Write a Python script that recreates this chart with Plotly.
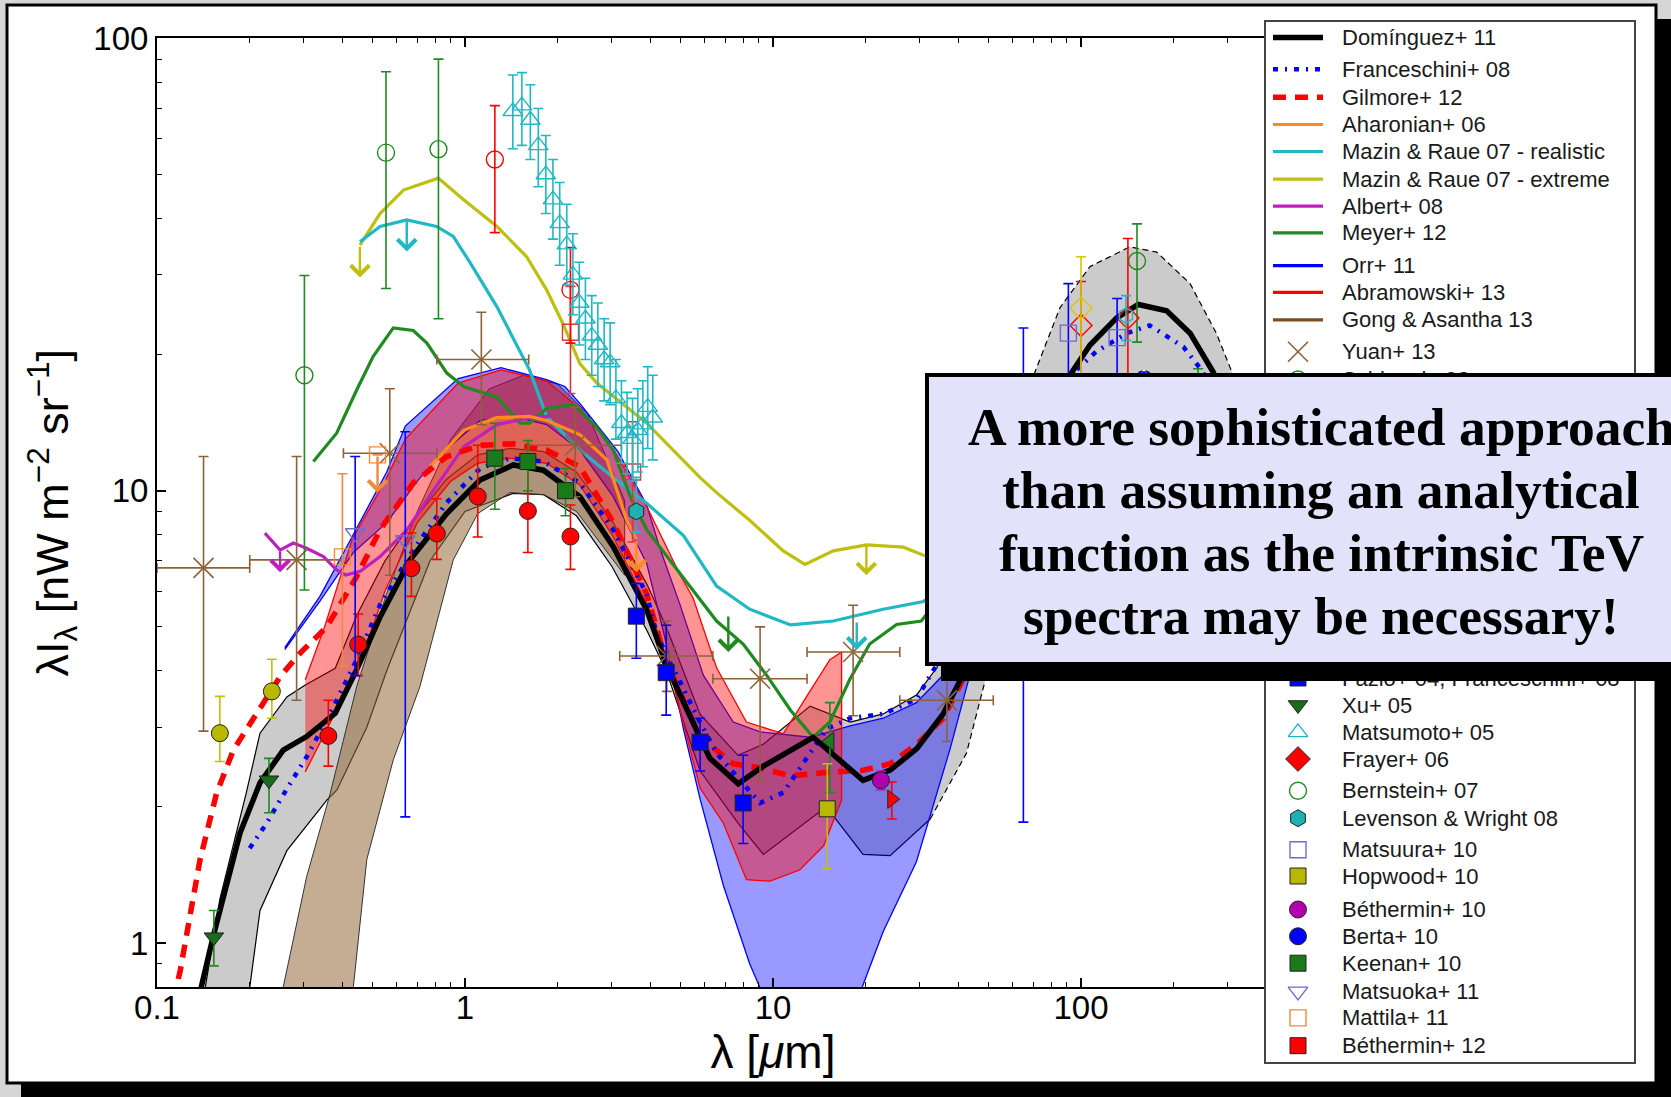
import numpy as np
import plotly.graph_objects as go

# ---------------------------------------------------------------- canvas / axes geometry (pixels)
W, H = 1671, 1097
L, T, R, B = 157, 38.4, 1389, 987          # main axes box
LG_X0, LG_X1, LG_Y0, LG_Y1 = 1266, 1634, 21.5, 1062   # key panel box
XR = [-1, 3]
YR = [np.log10(0.8) - 0.0004, 2]


def px(X):
    return X / W


def py(Y):
    return 1 - Y / H


# ---------------------------------------------------------------- model curves
dom_x = [0.133, 0.139, 0.152, 0.186, 0.216, 0.257, 0.306, 0.379, 0.445, 0.53, 0.663, 0.872, 1.118, 1.435,
         1.796, 2.36, 3.03, 3.89, 4.52, 5.79, 6.24, 7.71, 9.3, 13.5, 19.6, 24.0, 29.3, 35.7, 42.5, 60,
         92, 107, 130.6, 153.5, 189.7, 226, 268.6, 330, 400, 500, 700]
dom_y = [0.7, 0.8, 1.03, 1.75, 2.26, 2.67, 2.86, 3.22, 4.02, 5.26, 7.03, 8.9, 10.56, 11.4,
         11.1, 9.7, 7.52, 5.45, 4.1, 2.85, 2.56, 2.25, 2.46, 2.85, 2.29, 2.41, 2.69, 3.21, 4.06, 8.5,
         18.0, 21.0, 24.1, 25.8, 25.0, 22.3, 18.3, 13.0, 9.0, 5.0, 2.0]

dom_up_x = [0.139, 0.16, 0.195, 0.216, 0.264, 0.303, 0.379, 0.445, 0.55, 0.68, 0.87, 1.1, 1.4, 1.8, 2.3,
            3.0, 3.9, 4.5, 5.8, 7.7, 9.3, 13.2, 17.8, 22.8, 29.3, 34.0, 45, 55, 70, 85.5, 107, 144,
            176, 226, 275, 312, 400, 500, 700]
dom_up_y = [0.7, 1.25, 2.15, 2.91, 3.5, 3.72, 4.05, 5.3, 7.0, 8.6, 10.6, 12.0, 12.4, 12.2, 11.0,
            8.6, 6.2, 5.0, 3.2, 2.6, 2.75, 3.34, 3.08, 3.21, 3.54, 4.06, 6.0, 9.5, 17.9, 25.4, 31.3, 34.6,
            33.7, 28.7, 22.3, 18.0, 12.0, 7.0, 3.0]
dom_lo_x = [0.195, 0.216, 0.264, 0.356, 0.384, 0.48, 0.557, 0.77, 1.0, 1.43, 1.8, 2.3, 3.0, 3.9, 4.5,
            5.8, 7.7, 9.3, 13.2, 14.9, 19.6, 24.0, 32.4, 42.5, 49.4, 60, 80, 100, 130, 160, 200, 250,
            300, 400, 500, 700]
dom_lo_y = [0.7, 1.18, 1.6, 2.07, 2.18, 3.0, 4.0, 7.0, 9.0, 9.86, 9.8, 8.8, 6.8, 4.9, 4.0,
            2.4, 1.84, 1.57, 1.88, 2.0, 1.57, 1.56, 1.88, 2.63, 3.92, 6.0, 10.0, 14.0, 17.0, 18.5, 17.0, 13.0,
            9.5, 5.0, 2.5, 1.0]

gong_up_x = [0.245, 0.257, 0.306, 0.365, 0.445, 0.557, 0.70, 0.90, 1.2, 1.55, 2.0, 2.5, 3.3]
gong_up_y = [0.7, 0.8, 1.40, 2.14, 3.69, 5.93, 9.0, 13.0, 16.8, 18.0, 17.2, 14.8, 9.5]
gong_lo_x = [0.42, 0.434, 0.48, 0.585, 0.714, 0.916, 1.1, 1.4, 1.8, 2.3, 3.3]
gong_lo_y = [0.7, 0.8, 1.53, 2.54, 3.69, 7.03, 8.9, 9.9, 9.8, 9.0, 6.5]

orr_up_x = [0.26, 0.338, 0.434, 0.557, 0.64, 0.95, 1.31, 1.84, 2.11, 2.36, 3.14, 3.89, 4.31, 4.99,
            5.94, 7.43, 9.08, 13.2, 17.8, 22.8, 29.2, 37.6, 43.6, 55, 70]
orr_up_y = [4.5, 5.84, 8.0, 11.0, 13.9, 17.7, 18.7, 17.6, 17.0, 15.6, 12.2, 9.3, 7.4, 5.6,
            3.91, 3.08, 2.93, 2.85, 3.02, 3.14, 3.4, 4.06, 4.85, 7.0, 10.0]
orr_lo_x = [0.26, 0.338, 0.434, 0.557, 0.70, 0.83, 1.12, 1.43, 1.84, 2.36, 3.03, 3.89, 4.5, 5.12,
            5.8, 6.9, 8.4, 9.5, 12.5, 16, 19.5, 22.8, 29.2, 33.1, 37.6, 43.6, 55, 70]
orr_lo_y = [4.45, 5.7, 7.3, 8.5, 10.5, 12.0, 14.3, 14.6, 14.0, 12.3, 9.7, 6.9, 4.6, 2.97,
            2.08, 1.34, 0.9, 0.74, 0.6, 0.6, 0.8, 1.06, 1.51, 2.0, 2.69, 3.92, 5.8, 9.0]

abr_up_x = [0.303, 0.35, 0.43, 0.55, 0.64, 0.95, 1.31, 1.84, 2.36, 3.0, 3.9, 5.0, 5.5, 6.56,
            8.2, 10.8, 13.2, 15.3, 16.7]
abr_up_y = [3.82, 5.0, 7.8, 10.5, 13.0, 17.3, 18.5, 17.5, 15.2, 12.5, 9.2, 6.5, 5.8, 4.06,
            3.08, 2.9, 3.61, 4.23, 4.4]
abr_lo_x = [0.303, 0.383, 0.445, 0.55, 0.70, 0.90, 1.10, 1.40, 1.84, 2.36, 3.0, 3.9, 4.5, 5.8, 6.9,
            8.2, 9.78, 12.2, 14.6, 16.7]
abr_lo_y = [2.39, 3.27, 3.95, 6.0, 8.5, 10.5, 11.5, 11.8, 11.5, 10.3, 8.0, 5.6, 4.3, 2.2, 1.84,
            1.38, 1.37, 1.45, 1.64, 2.07]

fra_x = [0.2, 0.227, 0.251, 0.306, 0.356, 0.445, 0.53, 0.68, 0.87, 1.12, 1.4, 1.8, 2.36, 3.03, 3.89,
         4.2, 5.79, 6.56, 8.0, 9.08, 10.8, 13.2, 14.9, 17.8, 22.8, 29.2, 33.1, 45, 60, 75, 92, 112,
         141, 167, 215, 249, 300, 400]
fra_y = [1.62, 1.84, 2.07, 2.58, 3.11, 4.23, 5.6, 7.4, 9.4, 11.2, 11.8, 11.6, 10.4, 8.2, 5.9,
         4.8, 3.08, 2.63, 2.25, 2.04, 2.15, 2.63, 2.97, 3.14, 3.21, 3.46, 4.0, 5.5, 9.0, 13.5, 17.9, 20.3,
         22.3, 23.2, 20.8, 18.3, 13.0, 7.0]

gil_x = [0.105, 0.119, 0.138, 0.156, 0.177, 0.211, 0.251, 0.291, 0.356, 0.445, 0.53, 0.679, 0.873,
         1.12, 1.43, 1.84, 2.36, 3.03, 3.89, 4.5, 5.79, 7.43, 9.08, 11.4, 14.6, 19.6, 24.0, 29.3,
         35.7, 41.5, 60, 100, 150, 200, 300]
gil_y = [0.6, 0.87, 1.53, 2.14, 2.67, 3.22, 3.88, 4.37, 5.0, 6.46, 8.2, 10.4, 11.9,
         12.6, 12.7, 12.3, 11.3, 8.5, 5.9, 4.2, 2.85, 2.49, 2.44, 2.34, 2.38, 2.41, 2.49, 2.75,
         3.14, 3.84, 7.5, 14.0, 17.0, 15.0, 9.0]

aha_x = [0.77, 0.99, 1.265, 1.62, 1.84, 2.36, 2.89, 3.35, 3.6]
aha_y = [11.3, 13.6, 14.5, 14.6, 14.3, 13.3, 11.7, 8.6, 7.8]

mre_x = [0.456, 0.53, 0.631, 0.819, 0.99, 1.27, 1.585, 1.84, 2.08, 2.36, 2.68, 3.89, 5.79, 6.56,
         8.4, 10.8, 12.7, 15.7, 20.1, 26.5, 31.8, 40, 60]
mre_y = [34.9, 41.0, 46.2, 49.1, 44.0, 38.4, 32.9, 27.8, 23.4, 19.1, 17.3, 14.1, 10.7, 9.9,
         8.6, 7.36, 6.87, 7.36, 7.59, 7.5, 7.14, 7.5, 10.0]

mrr_x = [0.456, 0.53, 0.647, 0.809, 0.916, 1.04, 1.27, 1.43, 1.62, 1.84, 2.36, 3.03, 3.89, 5.12,
         6.56, 8.4, 11.4, 15.7, 22.8, 30.8, 40, 60]
mrr_y = [35.5, 38.4, 39.7, 38.4, 36.5, 31.9, 25.5, 21.9, 18.5, 14.6, 12.3, 10.7, 9.38, 7.96,
         6.15, 5.47, 5.05, 5.15, 5.47, 5.69, 6.5, 9.0]

alb_x = [0.224, 0.251, 0.277, 0.306, 0.347, 0.383, 0.41, 0.456, 0.53, 0.647, 0.789, 0.99, 1.27,
         1.62, 1.89]
alb_y = [8.06, 7.39, 7.66, 7.46, 7.15, 6.68, 6.51, 6.63, 7.15, 8.18, 10.0, 12.5, 14.0, 14.5, 14.6]

mey_x = [0.322, 0.383, 0.445, 0.503, 0.585, 0.679, 0.752, 0.873, 0.99, 1.27, 1.51, 1.62, 1.84, 2.25,
         2.68, 3.03, 3.44, 3.89, 5.12, 6.56, 8.0, 9.53, 11.4, 13.5, 15.3, 17.8, 20.6, 25.2, 30.3,
         31.8, 40, 60]
mey_y = [11.6, 13.4, 16.7, 19.8, 22.9, 22.6, 21.2, 18.2, 17.0, 16.1, 14.1, 14.1, 15.2, 15.5,
         13.8, 12.3, 9.7, 8.2, 6.41, 5.15, 4.58, 3.91, 3.27, 2.85, 3.08, 3.84, 4.58, 5.06, 5.15,
         5.37, 7.0, 10.0]

# ---------------------------------------------------------------- upper limits (x, from, to)
lim_mre = [(0.456, 34.9, 29.6), (20.1, 7.59, 6.5)]
lim_mrr = [(0.647, 39.7, 33.8), (18.7, 5.15, 4.45)]
lim_mey = [(7.16, 5.31, 4.4)]
lim_alb = [(0.251, 7.39, 6.6)]
lim_aha = [(3.6, 7.8, 6.6)]
lim_mat = [(0.52, 12.0, 9.9)]

# ---------------------------------------------------------------- measurements
yuan_x = [0.1416, 0.284, 0.57, 1.13, 2.28, 4.52, 9.08, 18.2, 36.7]
yuan_y = [6.75, 7.03, 12.1, 19.5, 12.6, 4.31, 3.84, 4.4, 3.44]
yuan_yhi = [11.9, 11.9, 16.8, 24.8, 15.3, 5.15, 5.0, 5.58, 4.5]
yuan_ylo = [2.94, 3.44, 6.5, 14.0, 9.7, 3.6, 2.29, 3.18, 2.79]
yuan_xlo = [0.1, 0.2, 0.403, 0.81, 1.61, 3.18, 6.38, 12.9, 25.8]
yuan_xhi = [0.2, 0.4, 0.81, 1.61, 3.22, 6.38, 12.9, 25.8, 51.9]

sch_x, sch_y, sch_hi, sch_lo = [152, 240], [32.2, 14.0], [38.9, 18.6], [21.3, 10.0]
hau_x, hau_y, hau_hi, hau_lo = [100, 142], [23.2, 24.1], [29.0, 36.1], [10.0, 14.0]
lag_x, lag_y, lag_hi, lag_lo = [100], [25.3], [32.9], [12.0]
fin_x, fin_y, fin_hi, fin_lo = [140], [24.4], [27.0], [21.5]
gor_x, gor_y, gor_hi, gor_lo = [2.2, 3.5], [22.4, 11.0], [28.3, 14.2], [16.4, 7.7]
cam_x, cam_y, cam_hi, cam_lo = [1.25, 2.2], [54.0, 27.8], [71.0, 34.5], [37.2, 21.2]
mp_x = [0.36, 0.45, 0.67, 0.81, 1.1, 1.6, 2.2]
mp_y = [2.87, 4.57, 6.74, 8.04, 9.71, 9.02, 7.92]
mp_hi = [3.44, 5.34, 8.06, 9.6, 12.6, 11.3, 9.3]
mp_lo = [2.46, 3.9, 5.84, 7.05, 7.9, 7.3, 6.7]
gar_x, gar_y, gar_hi, gar_lo = [0.16, 0.236], [2.91, 3.6], [3.51, 4.24], [2.52, 3.14]
elb_x, elb_y, elb_hi, elb_lo = [15.3], [2.79], [3.4], [2.15]
pap_x, pap_y, pap_hi, pap_lo = [24.3], [2.08], [2.27], [1.88]
dol_x, dol_y, dol_hi, dol_lo = [70, 160], [7.1, 13.4], [8.0, 15.0], [6.2, 11.8]
faz_x, faz_y, faz_hi, faz_lo = [3.6, 4.5, 5.8, 8.0], [5.28, 3.96, 2.78, 2.04], [6.24, 5.04, 3.14, 2.6], [4.26, 3.19, 2.4, 1.66]
xu_x, xu_y, xu_hi, xu_lo = [0.153, 0.231], [1.03, 2.29], [1.18, 2.56], [0.89, 1.94]
mto_x = [1.43, 1.53, 1.63, 1.73, 1.83, 1.93, 2.03, 2.14, 2.24, 2.35, 2.46, 2.58, 2.70, 2.83, 2.96,
         3.09, 3.22, 3.36, 3.50, 3.64, 3.78, 3.92, 4.07]
mto_y = [69, 71, 66, 58, 50, 44, 39, 35, 30, 26, 24, 22, 21, 19.5, 19.2, 16, 14.1, 13.4, 13.0,
         13.6, 14.0, 15.3, 14.5]
mto_hi = [83, 84, 79, 70, 61, 54, 48, 43, 37, 32, 29.5, 27, 26, 24, 23.5, 19.5, 17.5, 16.5, 16,
          16.8, 17.5, 18.8, 18]
mto_lo = [57, 58, 54, 47, 41, 36, 31.5, 28.5, 24.5, 21, 19.5, 18, 17, 15.8, 15.5, 13, 11.5, 10.9,
          10.5, 11, 11.3, 12.4, 11.7]
fra6_x, fra6_y, fra6_hi, fra6_lo = [71], [7.4], [9.0], [5.8]
ber_x, ber_y, ber_hi, ber_lo = [0.301, 0.554, 0.82], [18.0, 55.9, 56.9], [29.9, 84.4, 90.0], [6.03, 28.0, 24.0]
lev_x, lev_y, lev_hi, lev_lo = [3.6], [9.0], [10.7], [8.1]
mtu_x, mtu_y, mtu_hi, mtu_lo = [65, 91, 131, 160], [6.5, 22.3, 21.8, 14.4], [22.9, 28.7, 26.6, 18.3], [1.85, 15.0, 17.0, 10.5]
hop_x, hop_y, hop_hi, hop_lo = [15], [1.98], [2.49], [1.46]
bt10_x, bt10_y, bt10_hi, bt10_lo = [22.4, 70, 100, 160], [2.29, 5.9, 8.0, 8.5], [2.4, 6.9, 9.5, 10.0], [2.18, 4.9, 6.5, 7.0]
brt_x, brt_y, brt_hi, brt_lo = [70, 100, 160], [5.5, 7.0, 6.6], [6.3, 8.2, 7.8], [4.7, 5.8, 5.4]
kee_x, kee_y, kee_hi, kee_lo = [1.25, 1.6, 2.12], [11.8, 11.6, 10.0], [14.1, 12.9, 11.2], [9.1, 10.0, 8.8]
mka_x, mka_y, mka_hi, mka_lo = [0.44, 0.64], [8.06, 7.78], [11.9, 13.5], [3.9, 1.9]
mla_x, mla_y, mla_hi, mla_lo = [0.4, 0.52], [7.14, 12.0], [10.9, None], [4.1, None]
bt12_x, bt12_y, bt12_hi, bt12_lo = [250, 350, 500], [10.1, 6.4, 2.8], [12.0, 7.8, 3.6], [8.2, 5.0, 2.0]

# ---------------------------------------------------------------- key entries (top to bottom)
key_names = ['Domínguez+ 11', 'Franceschini+ 08', 'Gilmore+ 12', 'Aharonian+ 06',
             'Mazin & Raue 07 - realistic', 'Mazin & Raue 07 - extreme', 'Albert+ 08', 'Meyer+ 12',
             'Orr+ 11', 'Abramowski+ 13', 'Gong & Asantha 13', 'Yuan+ 13', 'Schlegel+ 98',
             'Hauser+ 98', 'Lagache+ 00', 'Finkbeiner+ 00', 'Gorjian+ 00', 'Cambrésy+ 01',
             'Madau & Pozzetti 00', 'Gardner+ 00', 'Elbaz+ 02', 'Papovich+ 04', 'Dole+ 06',
             'Fazio+ 04, Franceschini+ 08', 'Xu+ 05', 'Matsumoto+ 05', 'Frayer+ 06', 'Bernstein+ 07',
             'Levenson & Wright 08', 'Matsuura+ 10', 'Hopwood+ 10', 'Béthermin+ 10', 'Berta+ 10',
             'Keenan+ 10', 'Matsuoka+ 11', 'Mattila+ 11', 'Béthermin+ 12']
key_rows = [37.5, 69.3, 97.3, 124.5, 151.5, 179.2, 206.2, 232.8, 265.7, 292.4, 319.9, 351.7, 379.5,
            407.1, 434.2, 461.3, 488.4, 515.5, 542.6, 569.6, 596.7, 623.8, 650.9,
            678.0, 705.0, 732.4, 759.0, 790.7, 818.2, 849.7, 876.0, 909.5, 936.3, 963.2, 991.4,
            1017.9, 1045.7]

# ---------------------------------------------------------------- colours
C_BLUE = '#0000ff'
C_RED = '#ff0000'
C_ORANGE = '#ff8c1a'
C_CYAN = '#1fb8c3'
C_OLIVE = '#bfbf0f'
C_MAG = '#bf1fbf'
C_GREEN = '#1f8a1f'
C_BROWN = '#7a4f26'
C_BROWN_PT = '#8c6239'
C_SLATE = '#6b6bd6'

FONT = 'Liberation Sans, Arial, Helvetica, sans-serif'

fig = go.Figure()
key_style = {}


def band(xu, yu, xl, yl, fill, lc, lw):
    fig.add_trace(go.Scatter(x=list(xu) + list(xl)[::-1], y=list(yu) + list(yl)[::-1],
                             mode='lines', fill='toself', fillcolor=fill,
                             line=dict(color=lc, width=lw), showlegend=False, hoverinfo='skip'))


def edge(xs, ys, dash, lw=1.2):
    fig.add_trace(go.Scatter(x=xs, y=ys, mode='lines', line=dict(color='black', width=lw, dash=dash),
                             showlegend=False, hoverinfo='skip'))


# Domínguez uncertainty band: solid edges in the optical/MIR, dashed in the FIR
band(dom_up_x, dom_up_y, dom_lo_x, dom_lo_y, 'rgba(140,140,140,0.45)', 'rgba(0,0,0,0)', 0)
for xs, ys in ((dom_up_x, dom_up_y), (dom_lo_x, dom_lo_y)):
    k = next(i for i, v in enumerate(xs) if v >= 30)
    edge(xs[:k + 1], ys[:k + 1], 'solid')
    edge(xs[k:], ys[k:], '6px,4px')

band(gong_up_x, gong_up_y, gong_lo_x, gong_lo_y, 'rgba(150,105,60,0.55)', '#333333', 1)
band(orr_up_x, orr_up_y, orr_lo_x, orr_lo_y, 'rgba(0,0,255,0.4)', C_BLUE, 1.3)
band(abr_up_x, abr_up_y, abr_lo_x, abr_lo_y, 'rgba(255,0,0,0.42)', C_RED, 1.3)


def curve(name, xs, ys, color, width, dash='solid'):
    line = dict(color=color, width=width, dash=dash)
    key_style[name] = ('line', line)
    if xs:
        fig.add_trace(go.Scatter(x=xs, y=ys, mode='lines', name=name, line=line,
                                 showlegend=False, hoverinfo='skip'))


curve('Mazin & Raue 07 - extreme', mre_x, mre_y, C_OLIVE, 3.2)
curve('Mazin & Raue 07 - realistic', mrr_x, mrr_y, C_CYAN, 3.2)
curve('Meyer+ 12', mey_x, mey_y, C_GREEN, 3.2)
curve('Albert+ 08', alb_x, alb_y, C_MAG, 3.2)
curve('Aharonian+ 06', aha_x, aha_y, C_ORANGE, 3.2)
curve('Gilmore+ 12', gil_x, gil_y, C_RED, 5.5, '13px,9px')
curve('Franceschini+ 08', fra_x, fra_y, C_BLUE, 4.5, '5px,7px,2px,7px')
curve('Domínguez+ 11', dom_x, dom_y, 'black', 5.5)
# key styles of the bands
curve('Orr+ 11', None, None, C_BLUE, 3.2)
curve('Abramowski+ 13', None, None, C_RED, 3.2)
curve('Gong & Asantha 13', None, None, C_BROWN, 3.2)


def points(name, xs, ys, hi, lo, symbol, color, size, fill=None, edge_col='#222222',
           lw=1.0, xlo=None, xhi=None, err_col=None):
    ec = err_col or color
    plus = [None if h is None else h - y for h, y in zip(hi, ys)]
    minus = [None if m is None else y - m for m, y in zip(lo, ys)]
    kw = {}
    if xlo is not None:
        kw['error_x'] = dict(type='data', symmetric=False,
                             array=[h - x for h, x in zip(xhi, xs)],
                             arrayminus=[x - m for m, x in zip(xlo, xs)],
                             color=ec, thickness=1.6, width=5)
    open_sym = symbol.endswith('open')
    marker = dict(symbol=symbol, size=size,
                  color=color if open_sym else (fill or color),
                  line=dict(color=color if open_sym else edge_col, width=lw))
    key_style[name] = ('marker', marker)
    fig.add_trace(go.Scatter(
        x=xs, y=ys, mode='markers', name=name, showlegend=False, hoverinfo='skip', marker=marker,
        error_y=dict(type='data', symmetric=False, array=plus, arrayminus=minus,
                     color=ec, thickness=1.6, width=5), **kw))


points('Yuan+ 13', yuan_x, yuan_y, yuan_yhi, yuan_ylo, 'x-thin-open', C_BROWN_PT, 20, lw=1.6,
       xlo=yuan_xlo, xhi=yuan_xhi)
points('Schlegel+ 98', sch_x, sch_y, sch_hi, sch_lo, 'circle-open', C_GREEN, 17, lw=1.4)
points('Hauser+ 98', hau_x, hau_y, hau_hi, hau_lo, 'diamond-open', C_RED, 17, lw=1.4)
points('Lagache+ 00', lag_x, lag_y, lag_hi, lag_lo, 'diamond-open', '#d8c800', 17, lw=1.4)
points('Finkbeiner+ 00', fin_x, fin_y, fin_hi, fin_lo, 'hexagon-open', C_CYAN, 15, lw=1.4)
points('Gorjian+ 00', gor_x, gor_y, gor_hi, gor_lo, 'square-open', '#d63a3a', 16, lw=1.4)
points('Cambrésy+ 01', cam_x, cam_y, cam_hi, cam_lo, 'circle-open', C_RED, 17, lw=1.4)
points('Madau & Pozzetti 00', mp_x, mp_y, mp_hi, mp_lo, 'circle', C_RED, 17, fill=C_RED)
points('Gardner+ 00', gar_x, gar_y, gar_hi, gar_lo, 'circle', C_OLIVE, 17, fill='#b8b800')
points('Elbaz+ 02', elb_x, elb_y, elb_hi, elb_lo, 'triangle-left', C_GREEN, 16, fill='#1f7a1f')
points('Papovich+ 04', pap_x, pap_y, pap_hi, pap_lo, 'triangle-right', C_RED, 16, fill=C_RED)
points('Dole+ 06', dol_x, dol_y, dol_hi, dol_lo, 'star', '#ff6600', 15, fill='#ff6600')
points('Fazio+ 04, Franceschini+ 08', faz_x, faz_y, faz_hi, faz_lo, 'square', C_BLUE, 16, fill=C_BLUE)
points('Xu+ 05', xu_x, xu_y, xu_hi, xu_lo, 'triangle-down', C_GREEN, 17, fill='#1a6b1a')
points('Matsumoto+ 05', mto_x, mto_y, mto_hi, mto_lo, 'triangle-up-open', C_CYAN, 17, lw=1.4)
points('Frayer+ 06', fra6_x, fra6_y, fra6_hi, fra6_lo, 'diamond', C_RED, 19, fill=C_RED)
points('Bernstein+ 07', ber_x, ber_y, ber_hi, ber_lo, 'circle-open', C_GREEN, 17, lw=1.4)
points('Levenson & Wright 08', lev_x, lev_y, lev_hi, lev_lo, 'hexagon', C_CYAN, 17, fill='#1fb0b0')
points('Matsuura+ 10', mtu_x, mtu_y, mtu_hi, mtu_lo, 'square-open', C_SLATE, 16, lw=1.4,
       err_col=C_BLUE)
points('Hopwood+ 10', hop_x, hop_y, hop_hi, hop_lo, 'square', C_OLIVE, 16, fill='#b8b800')
points('Béthermin+ 10', bt10_x, bt10_y, bt10_hi, bt10_lo, 'circle', C_MAG, 17, fill='#b000b0')
points('Berta+ 10', brt_x, brt_y, brt_hi, brt_lo, 'circle', C_BLUE, 17, fill=C_BLUE)
points('Keenan+ 10', kee_x, kee_y, kee_hi, kee_lo, 'square', C_GREEN, 16, fill='#1a7a1a')
points('Matsuoka+ 11', mka_x, mka_y, mka_hi, mka_lo, 'triangle-down-open', C_SLATE, 17, lw=1.4,
       err_col=C_BLUE)
points('Mattila+ 11', mla_x, mla_y, mla_hi, mla_lo, 'square-open', '#f08a3c', 16, lw=1.4)
points('Béthermin+ 12', bt12_x, bt12_y, bt12_hi, bt12_lo, 'square', C_RED, 16, fill=C_RED)

# ---------------------------------------------------------------- key panel (second subplot, pixel units)
fig.add_trace(go.Scatter(x=[LG_X0, LG_X1, LG_X1, LG_X0, LG_X0], y=[LG_Y0, LG_Y0, LG_Y1, LG_Y1, LG_Y0],
                         mode='lines', fill='toself', fillcolor='white', line=dict(width=0),
                         xaxis='x2', yaxis='y2', showlegend=False, hoverinfo='skip'))
ann = []
for name, yrow in zip(key_names, key_rows):
    kind, st = key_style[name]
    if kind == 'line':
        fig.add_trace(go.Scatter(x=[1273, 1323], y=[yrow, yrow], mode='lines', line=st,
                                 xaxis='x2', yaxis='y2', showlegend=False, hoverinfo='skip'))
    else:
        fig.add_trace(go.Scatter(x=[1298], y=[yrow], mode='markers', marker=st,
                                 xaxis='x2', yaxis='y2', showlegend=False, hoverinfo='skip'))
    ann.append(dict(x=1340, y=yrow, xref='x2', yref='y2', text=name, showarrow=False,
                    xanchor='left', yanchor='middle',
                    font=dict(family=FONT, size=22, color='#1a1a1a')))

# ---------------------------------------------------------------- upper-limit arrows
for lims, col in ((lim_mre, C_OLIVE), (lim_mrr, C_CYAN), (lim_mey, C_GREEN), (lim_alb, C_MAG),
                  (lim_aha, C_ORANGE), (lim_mat, '#f08a3c')):
    for x, y0, y1 in lims:
        ann.append(dict(x=np.log10(x), y=np.log10(y1), ax=np.log10(x), ay=np.log10(y0),
                        xref='x', yref='y', axref='x', ayref='y', text='', showarrow=True,
                        arrowhead=4, arrowsize=1.5, arrowwidth=2.4, arrowcolor=col, standoff=0))

# ---------------------------------------------------------------- callout box with drop shadow
BOX_X0, BOX_X1, BOX_Y0, BOX_Y1 = 927, 1715, 375, 664
BW = 4
SH = (16, 15)
for dx, dy, bg in ((SH[0], SH[1], 'black'), (0, 0, '#e2e2fa')):
    ann.append(dict(x=px((BOX_X0 + BOX_X1) / 2 + dx), y=py((BOX_Y0 + BOX_Y1) / 2 + dy),
                    xref='paper', yref='paper', text=' ', showarrow=False,
                    width=BOX_X1 - BOX_X0 - BW, height=BOX_Y1 - BOX_Y0 - BW,
                    bgcolor=bg, bordercolor='black', borderwidth=BW, borderpad=0,
                    xanchor='center', yanchor='middle'))
callout = ['A more sophisticated approach', 'than assuming an analytical',
           'function as the intrinsic TeV', 'spectra may be necessary!']
for i, line in enumerate(callout):
    ann.append(dict(x=px(1321), y=py(427 + 63 * i), xref='paper', yref='paper',
                    text='<b>' + line + '</b>', showarrow=False, xanchor='center', yanchor='middle',
                    font=dict(family='Liberation Serif, Times New Roman, serif', size=53.5,
                              color='black')))

# ---------------------------------------------------------------- frame around the figure
shapes = [
    dict(type='rect', xref='paper', yref='paper', x0=px(21), x1=px(1700), y0=py(19), y1=py(1120),
         fillcolor='black', line=dict(width=0), layer='below'),
    dict(type='rect', xref='paper', yref='paper', x0=px(7), x1=px(1656), y0=py(5), y1=py(1083),
         fillcolor='white', line=dict(color='black', width=3), layer='below'),
]

minor_vals = [m * 10.0 ** d for d in range(-1, 3) for m in range(2, 10)]
axis_font = dict(family=FONT, size=33, color='black')

fig.update_layout(
    width=W, height=H,
    margin=dict(l=0, r=0, t=0, b=0, autoexpand=False),
    paper_bgcolor='#d6d6d6', plot_bgcolor='white',
    shapes=shapes, annotations=ann, showlegend=False,
    xaxis=dict(type='log', range=XR, domain=[px(L), px(R)], anchor='y',
               showline=True, linecolor='black', linewidth=2, mirror='ticks',
               ticks='inside', ticklen=9, tickwidth=1.5, tickcolor='black',
               tickvals=[0.1, 1, 10, 100], ticktext=['0.1', '1', '10', '100'],
               tickfont=axis_font, ticklabelstandoff=-10, showgrid=False, zeroline=False,
               minor=dict(ticks='inside', ticklen=5, tickwidth=1, tickcolor='black',
                          tickvals=minor_vals, showgrid=False),
               title=dict(text='λ [<i>μ</i>m]', font=dict(family=FONT, size=46, color='black'),
                          standoff=8)),
    yaxis=dict(type='log', range=YR, domain=[py(B), py(T)], anchor='x',
               showline=True, linecolor='black', linewidth=2, mirror='ticks',
               ticks='inside', ticklen=9, tickwidth=1.5, tickcolor='black',
               tickvals=[1, 10, 100], ticktext=['1', '10', '100'],
               tickfont=axis_font, showgrid=False, zeroline=False,
               minor=dict(ticks='inside', ticklen=5, tickwidth=1, tickcolor='black',
                          tickvals=minor_vals, showgrid=False),
               title=dict(text='λI<sub>λ</sub> [nW m<sup>−2</sup> sr<sup>−1</sup>]',
                          font=dict(family=FONT, size=45, color='black'), standoff=11)),
    xaxis2=dict(domain=[px(LG_X0), px(LG_X1)], range=[LG_X0, LG_X1], anchor='y2',
                showline=True, mirror=True, linecolor='#444444', linewidth=1.5,
                showticklabels=False, ticks='', showgrid=False, zeroline=False),
    yaxis2=dict(domain=[py(LG_Y1), py(LG_Y0)], range=[LG_Y1, LG_Y0], anchor='x2',
                showline=True, mirror=True, linecolor='#444444', linewidth=1.5,
                showticklabels=False, ticks='', showgrid=False, zeroline=False),
)

fig.write_html('out.html')
